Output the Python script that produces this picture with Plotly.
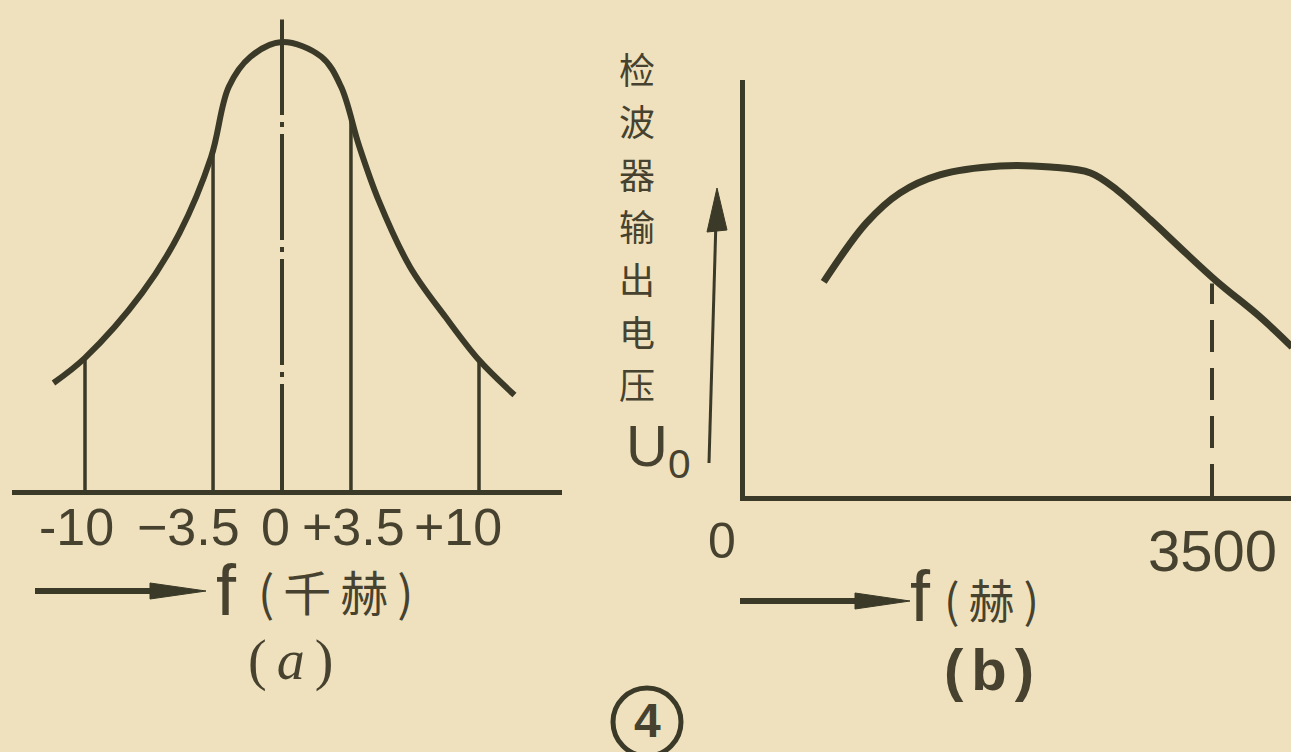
import numpy as np
import plotly.graph_objects as go

W, H = 1291, 752
PAPER = "#efe1bd"
INK = "#3b3927"
TEXT = "#46422f"
CJK = "Noto Sans CJK SC"
LATIN = "Liberation Sans"

# (a) IF response: offset from carrier (kHz) vs relative amplitude
a_freq_khz = [-11.6, -10.0, -7.1, -5.2, -3.6, -2.7, -1.6, 0.0, 2.0, 3.0, 3.9, 4.9, 6.5, 8.3, 10.0, 11.8]
a_level = [0.239, 0.295, 0.440, 0.574, 0.743, 0.900, 0.967, 1.0, 0.967, 0.900, 0.770, 0.647, 0.498, 0.386, 0.290, 0.212]
a_marks_khz = [-10, -3.5, 3.5, 10]
a_center_top = 1.05
a_tick_vals = [-10, -3.5, 0, 3.5, 10]
a_tick_text = ["-10", "−3.5", "0", "+3.5", "+10"]

# (b) detector output voltage vs audio frequency (Hz)
b_freq_hz = [590, 910, 1160, 1460, 1910, 2290, 2590, 2790, 3040, 3280, 3540, 3860, 4100]
b_level = [0.647, 0.825, 0.915, 0.970, 0.997, 0.994, 0.976, 0.924, 0.834, 0.743, 0.647, 0.541, 0.450]
b_cutoff_hz = 3500
b_tick_vals = [0, 3500]
b_tick_text = ["0", "3500"]

y_label = "检波器输出电压"


def px(x):
    return x / W


def py(y):
    return 1 - y / H


def note(x, y, text, size, family=LATIN, xanchor="center", **kw):
    """Paper-placed label given in pixel coordinates."""
    return dict(x=px(x), y=py(y), xref="paper", yref="paper", text=text,
                showarrow=False, xanchor=xanchor, yanchor="middle",
                font=dict(family=family, size=size, color=TEXT), **kw)


def spaced(text, gap):
    return '<span style="letter-spacing:{}px">{}</span>'.format(gap, text)


fig = go.Figure()

# ---- panel (a) ----
fig.add_trace(go.Scatter(
    x=a_freq_khz, y=a_level, mode="lines",
    line=dict(color=INK, width=6, shape="spline", smoothing=1.0),
    xaxis="x", yaxis="y", hoverinfo="skip"))

mx, my = [], []
for f in a_marks_khz:
    top = float(np.interp(f, a_freq_khz, a_level))
    mx += [f, f, None]
    my += [0, top, None]
fig.add_trace(go.Scatter(
    x=mx, y=my, mode="lines", line=dict(color=INK, width=3.5),
    xaxis="x", yaxis="y", hoverinfo="skip"))

fig.add_trace(go.Scatter(
    x=[0, 0], y=[0, a_center_top], mode="lines",
    line=dict(color=INK, width=4, dash="106px,7px,5px,7px"),
    xaxis="x", yaxis="y", hoverinfo="skip"))

# ---- panel (b) ----
fig.add_trace(go.Scatter(
    x=b_freq_hz, y=b_level, mode="lines",
    line=dict(color=INK, width=7, shape="spline", smoothing=1.0),
    xaxis="x2", yaxis="y2", hoverinfo="skip"))

cut_top = float(np.interp(b_cutoff_hz, b_freq_hz, b_level)) - 0.02
fig.add_trace(go.Scatter(
    x=[b_cutoff_hz, b_cutoff_hz], y=[0, cut_top], mode="lines",
    line=dict(color=INK, width=4, dash="32px,16px"),
    xaxis="x2", yaxis="y2", hoverinfo="skip"))

# axis geometry: panel (a) 19.7 px per kHz with 0 at x=282 px
a_left, a_right, a_zero, a_scale = 12, 562, 282, 19.7
b_left, b_bottom, b_top = 745, 496, 80
b_scale = (1212 - b_left) / b_cutoff_hz

axis_common = dict(showgrid=False, zeroline=False, ticks="", showticklabels=False,
                   fixedrange=True)

fig.update_layout(
    width=W, height=H,
    margin=dict(l=0, r=0, t=0, b=0),
    paper_bgcolor=PAPER, plot_bgcolor="rgba(0,0,0,0)",
    showlegend=False,
    xaxis=dict(domain=[px(a_left), px(a_right)],
               range=[(a_left - a_zero) / a_scale, (a_right - a_zero) / a_scale],
               showline=True, linewidth=5, linecolor=INK, anchor="y", **axis_common),
    yaxis=dict(domain=[py(490), 1], range=[0, 490 / 448], visible=False,
               anchor="x", fixedrange=True),
    xaxis2=dict(domain=[px(b_left), 1], range=[0, (W - b_left) / b_scale],
                showline=True, linewidth=5, linecolor=INK, anchor="y2", **axis_common),
    yaxis2=dict(domain=[py(b_bottom), py(b_top)], range=[0, (b_bottom - b_top) / 331],
                showline=True, linewidth=5, linecolor=INK, anchor="x2", **axis_common),
)

ann = []
# tick labels of (a)
a_label_nudge_px = [-9, -25, -7, 3, -21]
for v, t, dx in zip(a_tick_vals, a_tick_text, a_label_nudge_px):
    ann.append(dict(x=v, xref="x", y=py(527), yref="paper", text=t, showarrow=False,
                    xshift=dx, xanchor="center", yanchor="middle",
                    font=dict(family=LATIN, size=52, color=TEXT)))
# tick labels of (b)
b_label_nudge_px = [-23, 0]
b_label_y = [541, 550]
b_label_size = [50, 58]
for v, t, dx, yy, s in zip(b_tick_vals, b_tick_text, b_label_nudge_px, b_label_y, b_label_size):
    ann.append(dict(x=v, xref="x2", y=py(yy), yref="paper", text=t, showarrow=False,
                    xshift=dx, xanchor="center", yanchor="middle",
                    font=dict(family=LATIN, size=s, color=TEXT)))

# frequency axis captions: symbol f followed by the unit
ann.append(note(214, 590, "f", 72, xanchor="left"))
ann.append(note(256, 590, spaced("(千赫)", 9), 48, family=CJK, xanchor="left"))
ann.append(note(908, 596, "f", 72, xanchor="left"))
ann.append(note(942, 598, spaced("(赫)", 9), 46, family=CJK, xanchor="left"))

# panel captions
ann.append(note(295, 660, spaced("(<i>a</i>)", 10), 56, family="Liberation Serif"))
ann.append(note(993, 669, "<b>" + spaced("(b)", 8) + "</b>", 58))

# vertical y-axis caption of (b), stacked one character at a time
for i, ch in enumerate(y_label):
    ann.append(note(637, 68 + 52.5 * i, ch, 36, family=CJK))
ann.append(note(658, 450, "U<sub>0</sub>", 58))

# figure number
ann.append(note(647, 720, "<b>4</b>", 48))

fig.update_layout(annotations=ann)


def tri(p1, p2, p3):
    return "M {} {} L {} {} L {} {} Z".format(px(p1[0]), py(p1[1]), px(p2[0]), py(p2[1]),
                                              px(p3[0]), py(p3[1]))


shapes = [
    # arrow under (a)
    dict(type="line", xref="paper", yref="paper", x0=px(35), y0=py(591), x1=px(160), y1=py(591),
         line=dict(color=INK, width=6)),
    dict(type="path", xref="paper", yref="paper", path=tri((150, 583), (206, 591), (150, 599)),
         fillcolor=INK, line=dict(color=INK, width=1)),
    # arrow under (b)
    dict(type="line", xref="paper", yref="paper", x0=px(740), y0=py(601), x1=px(865), y1=py(601),
         line=dict(color=INK, width=6)),
    dict(type="path", xref="paper", yref="paper", path=tri((855, 593), (910, 601), (855, 609)),
         fillcolor=INK, line=dict(color=INK, width=1)),
    # upward arrow beside the voltage caption
    dict(type="line", xref="paper", yref="paper", x0=px(709), y0=py(463), x1=px(716), y1=py(220),
         line=dict(color=INK, width=3)),
    dict(type="path", xref="paper", yref="paper", path=tri((707, 232), (717, 188), (727, 230)),
         fillcolor=INK, line=dict(color=INK, width=1)),
    # circle round the figure number
    dict(type="circle", xref="paper", yref="paper", x0=px(613), y0=py(756), x1=px(681), y1=py(688),
         line=dict(color=INK, width=5)),
]
fig.update_layout(shapes=shapes)

fig.write_html("out.html")
